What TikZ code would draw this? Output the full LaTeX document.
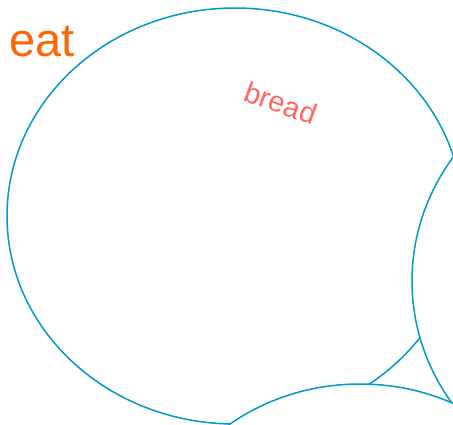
\documentclass[tikz,border=0pt]{standalone}
\usepackage{fontspec}
\setmainfont{Liberation Sans}
\usepackage{xcolor}
\usetikzlibrary{shapes.geometric}
\definecolor{bubbleblue}{HTML}{0099CC}
\definecolor{eatorange}{HTML}{FF6600}
\definecolor{breadred}{HTML}{FF6666}

\begin{document}
\begin{tikzpicture}[
    x=1pt, y=-1pt,
    bubble/.style={ellipse, draw=bubbleblue, line width=1.5pt, fill=white, inner sep=0pt},
    word/.style={inner sep=0pt}
  ]
    \useasboundingbox (0,0) rectangle (453,424);
    \begin{scope}
    \clip (0,0) rectangle (453,424);
    \node[bubble, minimum width=456pt, minimum height=416pt] (eatbubble) at (235,216) {};
    \node[bubble, minimum width=484pt, minimum height=444pt] (rightbubble) at (654,281) {};
    \node[bubble, minimum width=430pt, minimum height=394pt] (lowbubble) at (360,581) {};
    \end{scope}

    \node[word, anchor=base west, text=eatorange, font=\fontsize{47}{47}\selectfont] (eat) at (9,56) {eat};
    \node[word, text=breadred, rotate=-20, font=\fontsize{29}{29}\selectfont] (bread) at (281,103) {bread};
  \end{tikzpicture}
\end{document}
